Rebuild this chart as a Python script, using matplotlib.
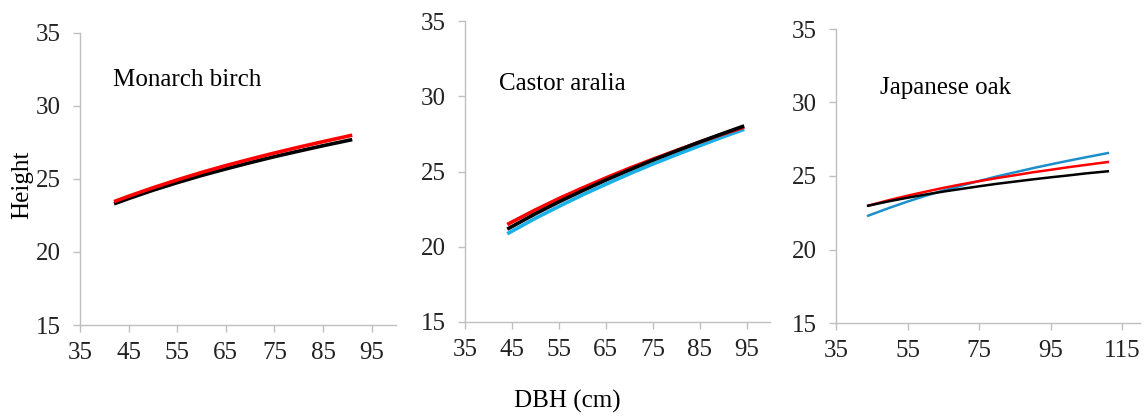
import matplotlib.pyplot as plt

plt.rcParams['font.family'] = ['Liberation Serif', 'DejaVu Serif']

# Monarch birch
birch_dbh = [42, 45, 50, 55, 60, 65, 70, 75, 80, 85, 91]
birch_red = [23.45, 23.82, 24.40, 24.94, 25.45, 25.92, 26.36, 26.78, 27.18, 27.56, 28.0]
birch_black = [23.3, 23.66, 24.23, 24.75, 25.24, 25.69, 26.12, 26.53, 26.91, 27.28, 27.7]

# Castor aralia
aralia_dbh = [44, 50, 55, 60, 65, 70, 75, 80, 85, 90, 94.5]
aralia_blue = [20.86, 21.89, 22.68, 23.44, 24.15, 24.84, 25.49, 26.11, 26.71, 27.30, 27.8]
aralia_red = [21.48, 22.45, 23.20, 23.90, 24.57, 25.21, 25.81, 26.39, 26.95, 27.49, 27.95]
aralia_black = [21.17, 22.19, 22.98, 23.72, 24.43, 25.10, 25.75, 26.36, 26.96, 27.53, 28.03]

# Japanese oak
oak_dbh = [44, 50, 55, 60, 65, 70, 75, 80, 85, 90, 95, 100, 105, 111]
oak_blue = [22.3, 22.84, 23.26, 23.65, 24.01, 24.34, 24.66, 24.97, 25.25, 25.53, 25.79, 26.04, 26.28, 26.56]
oak_red = [22.98, 23.37, 23.66, 23.93, 24.19, 24.43, 24.65, 24.86, 25.05, 25.25, 25.42, 25.60, 25.76, 25.95]
oak_black = [22.98, 23.29, 23.52, 23.74, 23.94, 24.12, 24.30, 24.47, 24.62, 24.77, 24.91, 25.04, 25.18, 25.32]

titles = ['Monarch birch', 'Castor aralia', 'Japanese oak']
yticks = [15, 20, 25, 30, 35]

fig = plt.figure(figsize=(11.45, 4.16), dpi=100)
W, H = 1145, 416
# axes boxes in pixels: left, top, right, bottom
boxes = [(80, 33, 396, 325), (465, 21, 770, 322), (836, 29, 1140, 323)]
axes = []
for (l, t, r, b) in boxes:
    ax = fig.add_axes([l / W, 1 - b / H, (r - l) / W, (b - t) / H])
    axes.append(ax)

grey = '#BFBFBF'
lw_thick = 2.6
axes[0].plot(birch_dbh, birch_black, color='black', lw=lw_thick, solid_capstyle='butt')
axes[0].plot(birch_dbh, birch_red, color='#FF0000', lw=lw_thick, solid_capstyle='butt')

axes[1].plot(aralia_dbh, aralia_blue, color='#1AB0E8', lw=lw_thick, solid_capstyle='butt')
axes[1].plot(aralia_dbh, aralia_red, color='#FF0000', lw=lw_thick, solid_capstyle='butt')
axes[1].plot(aralia_dbh, aralia_black, color='black', lw=lw_thick, solid_capstyle='butt')

axes[2].plot(oak_dbh, oak_blue, color='#1C8FCB', lw=1.8)
axes[2].plot(oak_dbh, oak_red, color='#FF0000', lw=1.8)
axes[2].plot(oak_dbh, oak_black, color='black', lw=1.8)

xlims = [(35, 100), (35, 100), (35, 120)]
xticks = [range(35, 100, 10), range(35, 100, 10), range(35, 120, 20)]
title_pos = [(0.105, 0.84), (0.11, 0.79), (0.145, 0.80)]

for i, ax in enumerate(axes):
    ax.set_xlim(*xlims[i])
    ax.set_ylim(15, 35)
    ax.set_xticks(list(xticks[i]))
    ax.set_yticks(yticks)
    for s in ['top', 'right']:
        ax.spines[s].set_visible(False)
    for s in ['left', 'bottom']:
        ax.spines[s].set_color(grey)
        ax.spines[s].set_linewidth(1.0)
    ax.tick_params(direction='out', length=5, width=1, color=grey,
                   labelsize=18, labelcolor='#222222')
    ax.tick_params(axis='x', pad=7)
    ax.tick_params(axis='y', pad=9)
    ax.text(title_pos[i][0], title_pos[i][1], titles[i], transform=ax.transAxes,
            fontsize=18, va='center', ha='left', color='black')

fig.text(22 / W, 1 - 185 / H, 'Height', rotation=90, fontsize=18,
         va='center', ha='center')
fig.text(567 / W, 1 - 401 / H, 'DBH (cm)', fontsize=18, va='center', ha='center')

fig.savefig('out.png', dpi=100)
